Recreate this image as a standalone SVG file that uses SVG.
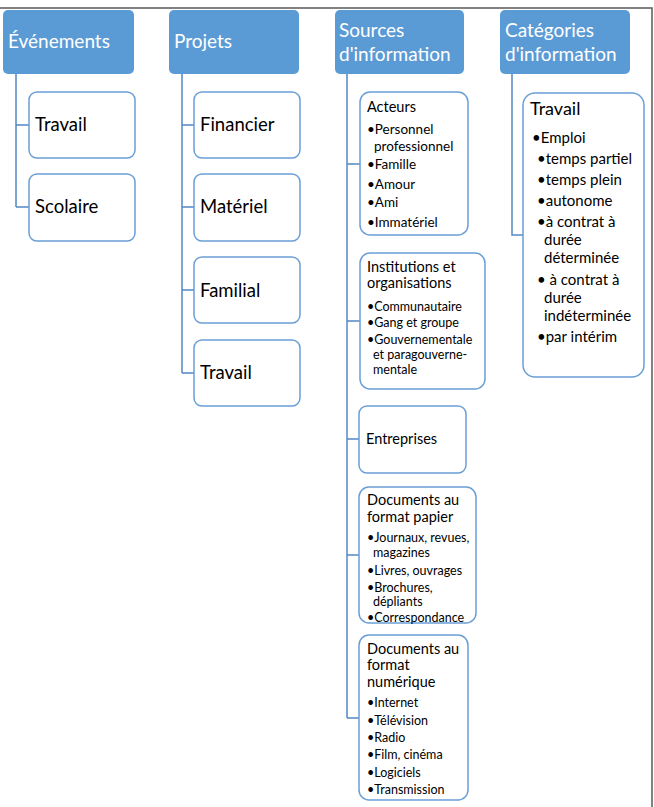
<svg xmlns="http://www.w3.org/2000/svg" width="654" height="807" viewBox="0 0 654 807">
<style>
.hd{fill:#5b9bd5;}
.bx{fill:#ffffff;stroke:#6a9fd6;stroke-width:1.5;}
.cn{fill:none;stroke:#5288c6;stroke-width:1.5;}
text{font-family:Lato,"Liberation Sans",sans-serif;fill:#000;}
.ht{fill:#ffffff;font-size:19px;}
.ct{font-size:18.5px;}
.st{font-size:14.5px;}
.b1{font-size:13.5px;}
.b2{font-size:12.5px;}
.ca{font-size:18px;}
.cb{font-size:15px;}
</style>
<rect width="654" height="807" fill="#ffffff"/>
<path d="M0,8 H652 V807" fill="none" stroke="#5a5a5a" stroke-width="1.5"/>
<g id="connectors">
<path class="cn" d="M16,74 V207 M16,125 H29 M16,207 H29"/>
<path class="cn" d="M182,74 V373 M182,125 H194 M182,207 H194 M182,290 H194 M182,373 H194"/>
<path class="cn" d="M347,74 V718 M347,164 H360 M347,321 H360 M347,439 H359 M347,555 H359 M347,718 H359"/>
<path class="cn" d="M512,74 V235 H523"/>
</g>
<g id="evenements"><rect class="hd" x="3" y="10" width="131" height="64" rx="5"/><text class="ht" x="8" y="48">Événements</text></g>
<g id="projets"><rect class="hd" x="169" y="10" width="130" height="64" rx="5"/><text class="ht" x="174" y="48">Projets</text></g>
<g id="sources"><rect class="hd" x="335" y="10" width="129" height="64" rx="5"/><text class="ht" x="339" y="37">Sources</text><text class="ht" x="339" y="61">d'information</text></g>
<g id="categories"><rect class="hd" x="500" y="10" width="130" height="64" rx="5"/><text class="ht" x="505" y="37">Catégories</text><text class="ht" x="505" y="61">d'information</text></g>
<g id="ev-travail"><rect class="bx" x="29" y="92" width="106" height="66" rx="8"/><text class="ct" x="35" y="131">Travail</text></g>
<g id="ev-scolaire"><rect class="bx" x="29" y="174" width="106" height="67" rx="8"/><text class="ct" x="35" y="213">Scolaire</text></g>
<g id="pr-financier"><rect class="bx" x="194" y="92" width="106" height="66" rx="8"/><text class="ct" x="200" y="131">Financier</text></g>
<g id="pr-materiel"><rect class="bx" x="194" y="174" width="106" height="67" rx="8"/><text class="ct" x="200" y="213">Matériel</text></g>
<g id="pr-familial"><rect class="bx" x="194" y="257" width="106" height="66" rx="8"/><text class="ct" x="200" y="297">Familial</text></g>
<g id="pr-travail"><rect class="bx" x="194" y="340" width="106" height="66" rx="8"/><text class="ct" x="200" y="379">Travail</text></g>
<g id="so-acteurs"><rect class="bx" x="360" y="92" width="108" height="143" rx="10"/>
<text class="st" x="367" y="112">Acteurs</text>
<text class="b1" x="367" y="134">•Personnel</text>
<text class="b1" x="374" y="151">professionnel</text>
<text class="b1" x="367" y="169">•Famille</text>
<text class="b1" x="367" y="189">•Amour</text>
<text class="b1" x="367" y="207">•Ami</text>
<text class="b1" x="367" y="227">•Immatériel</text></g>
<g id="so-institutions"><rect class="bx" x="360" y="253" width="125" height="136" rx="10"/>
<text class="st" x="367" y="272">Institutions et</text>
<text class="st" x="367" y="288">organisations</text>
<text class="b2" x="367" y="311">•Communautaire</text>
<text class="b2" x="367" y="327">•Gang et groupe</text>
<text class="b2" x="367" y="344">•Gouvernementale</text>
<text class="b2" x="373" y="359">et paragouverne-</text>
<text class="b2" x="373" y="374">mentale</text></g>
<g id="so-entreprises"><rect class="bx" x="359" y="406" width="107" height="67" rx="8"/><text class="st" x="366" y="444">Entreprises</text></g>
<g id="so-papier"><rect class="bx" x="359" y="487" width="117" height="136" rx="10"/>
<text class="st" x="367" y="505">Documents au</text>
<text class="st" x="367" y="522">format papier</text>
<text class="b2" x="367" y="542">•Journaux, revues,</text>
<text class="b2" x="373" y="557">magazines</text>
<text class="b2" x="367" y="575">•Livres, ouvrages</text>
<text class="b2" x="367" y="592">•Brochures,</text>
<text class="b2" x="373" y="606">dépliants</text>
<text class="b2" x="367" y="622">•Correspondance</text></g>
<g id="so-numerique"><rect class="bx" x="359" y="635" width="109" height="165" rx="10"/>
<text class="st" x="367" y="654">Documents au</text>
<text class="st" x="367" y="670">format</text>
<text class="st" x="367" y="687">numérique</text>
<text class="b2" x="367" y="707">•Internet</text>
<text class="b2" x="367" y="725">•Télévision</text>
<text class="b2" x="367" y="742">•Radio</text>
<text class="b2" x="367" y="759">•Film, cinéma</text>
<text class="b2" x="367" y="777">•Logiciels</text>
<text class="b2" x="367" y="794">•Transmission</text></g>
<g id="ca-travail"><rect class="bx" x="523" y="93" width="121" height="284" rx="12"/>
<text class="ca" x="530" y="115">Travail</text>
<text class="cb" x="532" y="143">•Emploi</text>
<text class="cb" x="537" y="164">•temps partiel</text>
<text class="cb" x="537" y="185">•temps plein</text>
<text class="cb" x="537" y="206">•autonome</text>
<text class="cb" x="537" y="227">•à contrat à</text>
<text class="cb" x="544" y="245">durée</text>
<text class="cb" x="544" y="263">déterminée</text>
<text class="cb" x="537" y="285">• à contrat à</text>
<text class="cb" x="544" y="303">durée</text>
<text class="cb" x="544" y="321">indéterminée</text>
<text class="cb" x="537" y="342">•par intérim</text></g>
</svg>
